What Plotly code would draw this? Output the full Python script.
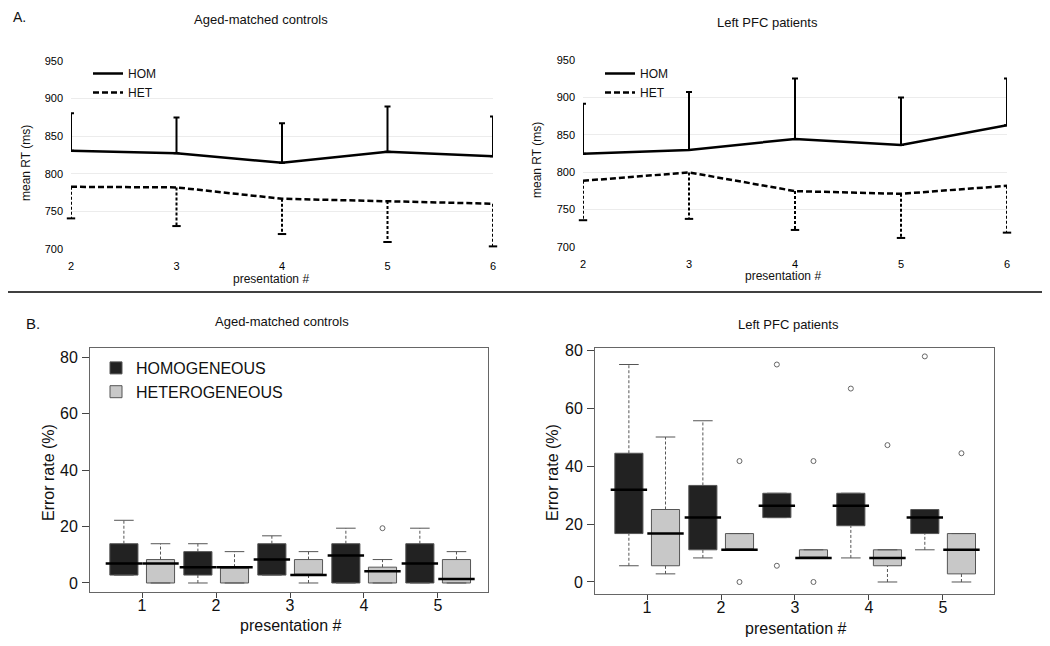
import plotly.graph_objects as go

# ---------------- data ----------------
pres_top = [2, 3, 4, 5, 6]
# Aged-matched controls (top)
ctrl_hom_mean = [830.5, 827.4, 814.6, 829.2, 823.5]
ctrl_hom_err = [50.0, 47.4, 52.7, 60.2, 52.6]
ctrl_het_mean = [782.7, 781.9, 766.8, 763.7, 760.2]
ctrl_het_err = [42.0, 51.4, 46.9, 54.4, 56.7]
# Left PFC patients (top)
pfc_hom_mean = [824.8, 829.7, 844.5, 836.4, 862.8]
pfc_hom_err = [66.6, 77.4, 80.9, 63.5, 62.6]
pfc_het_mean = [788.5, 799.7, 774.7, 771.1, 781.8]
pfc_het_err = [52.7, 62.1, 51.9, 59.0, 62.6]

pres_bot = [1, 2, 3, 4, 5]
# Aged-matched controls error rates (box stats)
c_hom_lo = [2.8, 0.0, 2.8, 0.0, 0.0]
c_hom_q1 = [2.8, 2.8, 2.8, 0.0, 0.0]
c_hom_med = [6.9, 5.6, 8.3, 9.7, 6.9]
c_hom_q3 = [13.9, 11.1, 13.9, 13.9, 13.9]
c_hom_hi = [22.2, 13.9, 16.7, 19.4, 19.4]
c_het_lo = [0.0, 0.0, 0.0, 0.0, 0.0]
c_het_q1 = [0.0, 0.0, 2.8, 0.0, 0.0]
c_het_med = [6.9, 5.6, 2.8, 4.2, 1.4]
c_het_q3 = [8.3, 5.6, 8.3, 5.6, 8.3]
c_het_hi = [13.9, 11.1, 11.1, 8.3, 11.1]
c_hom_out_x, c_hom_out_y = [], []
c_het_out_x, c_het_out_y = [4], [19.4]
# Left PFC patients error rates (box stats)
p_hom_lo = [5.6, 8.3, 22.2, 8.3, 11.1]
p_hom_q1 = [16.7, 11.1, 22.2, 19.4, 16.7]
p_hom_med = [31.8, 22.2, 26.3, 26.3, 22.2]
p_hom_q3 = [44.4, 33.3, 30.6, 30.6, 25.0]
p_hom_hi = [75.0, 55.6, 30.6, 30.6, 25.0]
p_het_lo = [2.8, 11.1, 8.3, 0.0, 0.0]
p_het_q1 = [5.6, 11.1, 8.3, 5.6, 2.8]
p_het_med = [16.7, 11.1, 8.3, 8.3, 11.1]
p_het_q3 = [25.0, 16.7, 11.1, 11.1, 16.7]
p_het_hi = [50.0, 16.7, 11.1, 11.1, 16.7]
p_hom_out_x, p_hom_out_y = [3, 3, 4, 5], [75.0, 5.6, 66.7, 77.8]
p_het_out_x, p_het_out_y = [2, 2, 3, 3, 4, 5], [41.7, 0.0, 41.7, 0.0, 47.2, 44.4]

# ---------------- style ----------------
W, H = 1050, 646
PAGE_OFF = 8  # default page margin around the figure
FONT = "Liberation Sans, Arial, sans-serif"
DARK, LIGHT, EDGE = "#222222", "#c8c8c8", "#555555"
OFF_HOM, OFF_HET, BOXW = -0.245, 0.25, 0.38


def px(x):
    return (x - PAGE_OFF) / W


def py(y):
    return 1 - (y - PAGE_OFF) / H


fig = go.Figure()


def top_panel(hom_m, hom_e, het_m, het_e, xa, ya, leg):
    fig.add_trace(go.Scatter(
        x=pres_top, y=hom_m, mode="lines", name="HOM", legend=leg,
        line=dict(color="black", width=2.5), cliponaxis=False,
        error_y=dict(type="data", symmetric=False, array=hom_e,
                     arrayminus=[0] * len(hom_e), color="black",
                     thickness=2, width=3),
        xaxis=xa, yaxis=ya, hoverinfo="skip"))
    fig.add_trace(go.Scatter(
        x=pres_top, y=het_m, mode="lines", name="HET", legend=leg,
        line=dict(color="black", width=2.5, dash="6px,3px"), cliponaxis=False,
        xaxis=xa, yaxis=ya, hoverinfo="skip"))
    ex, ey = [], []
    for xv, m, e in zip(pres_top, het_m, het_e):
        ex += [xv, xv, None]
        ey += [m, m - e, None]
    fig.add_trace(go.Scatter(
        x=ex, y=ey, mode="lines", showlegend=False, cliponaxis=False,
        line=dict(color="black", width=2, dash="3px,2px"),
        xaxis=xa, yaxis=ya, hoverinfo="skip"))
    fig.add_trace(go.Scatter(
        x=pres_top, y=[m - e for m, e in zip(het_m, het_e)], mode="markers",
        showlegend=False, cliponaxis=False,
        marker=dict(symbol="line-ew-open", size=6, color="black",
                    line=dict(color="black", width=2)),
        xaxis=xa, yaxis=ya, hoverinfo="skip"))


top_panel(ctrl_hom_mean, ctrl_hom_err, ctrl_het_mean, ctrl_het_err, "x", "y", "legend")
top_panel(pfc_hom_mean, pfc_hom_err, pfc_het_mean, pfc_het_err, "x2", "y2", "legend2")


def box_set(lo, q1, med, q3, hi, ox, oy, off, color, name, xa, ya, show):
    xs = [p + off for p in pres_bot]
    # dashed whiskers (R style)
    wx, wy = [], []
    for xv, a, b, c, d in zip(xs, lo, q1, q3, hi):
        wx += [xv, xv, None, xv, xv, None]
        wy += [a, b, None, c, d, None]
    fig.add_trace(go.Scatter(
        x=wx, y=wy, mode="lines", showlegend=False,
        line=dict(color=EDGE, width=1, dash="3px,2px"),
        xaxis=xa, yaxis=ya, hoverinfo="skip"))
    # whisker staples
    fig.add_trace(go.Scatter(
        x=xs + xs, y=lo + hi, mode="markers", showlegend=False,
        marker=dict(symbol="line-ew-open", size=14, color=EDGE,
                    line=dict(color=EDGE, width=1)),
        xaxis=xa, yaxis=ya, hoverinfo="skip"))
    fig.add_trace(go.Box(
        x=xs, q1=q1, median=med, q3=q3, lowerfence=q1, upperfence=q3,
        width=BOXW, whiskerwidth=0, fillcolor=color, name=name,
        line=dict(color=EDGE, width=1), boxpoints=False,
        showlegend=show, legend="legend3", xaxis=xa, yaxis=ya,
        hoverinfo="skip"))
    fig.add_trace(go.Scatter(
        x=xs, y=med, mode="markers", showlegend=False,
        marker=dict(symbol="line-ew-open", size=26, color="black",
                    line=dict(color="black", width=2.5)),
        xaxis=xa, yaxis=ya, hoverinfo="skip"))
    if ox:
        fig.add_trace(go.Scatter(
            x=[p + off for p in ox], y=oy, mode="markers", showlegend=False,
            marker=dict(symbol="circle-open", size=5, color="#666666",
                        line=dict(color="#666666", width=1)),
            xaxis=xa, yaxis=ya, hoverinfo="skip"))


box_set(c_hom_lo, c_hom_q1, c_hom_med, c_hom_q3, c_hom_hi, c_hom_out_x, c_hom_out_y,
        OFF_HOM, DARK, "HOMOGENEOUS", "x3", "y3", True)
box_set(c_het_lo, c_het_q1, c_het_med, c_het_q3, c_het_hi, c_het_out_x, c_het_out_y,
        OFF_HET, LIGHT, "HETEROGENEOUS", "x3", "y3", True)
box_set(p_hom_lo, p_hom_q1, p_hom_med, p_hom_q3, p_hom_hi, p_hom_out_x, p_hom_out_y,
        OFF_HOM, DARK, "HOMOGENEOUS", "x4", "y4", False)
box_set(p_het_lo, p_het_q1, p_het_med, p_het_q3, p_het_hi, p_het_out_x, p_het_out_y,
        OFF_HET, LIGHT, "HETEROGENEOUS", "x4", "y4", False)

# ---------------- axes ----------------
top_x = dict(range=[2, 6], tickvals=pres_top, showgrid=False, zeroline=False,
             showline=False, ticks="", ticklabelstandoff=9,
             tickfont=dict(family=FONT, size=11, color="#000"))
top_y = dict(range=[700, 950], dtick=50, showgrid=True, gridcolor="#ececec",
             gridwidth=1, zeroline=False, showline=False, ticks="",
             ticklabelstandoff=7, tickfont=dict(family=FONT, size=11, color="#000"))
bot_x = dict(tickvals=pres_bot, showgrid=False, zeroline=False, showline=True,
             linecolor="#666", linewidth=1, mirror=True, ticks="outside",
             ticklen=5, tickcolor="#444", ticklabelstandoff=-6,
             tickfont=dict(family=FONT, size=16, color="#111"))
bot_y = dict(tickvals=[0, 20, 40, 60, 80], showgrid=False, zeroline=False,
             showline=True, linecolor="#666", linewidth=1, mirror=True,
             ticks="outside", ticklen=7, tickcolor="#444", ticklabelstandoff=1,
             tickfont=dict(family=FONT, size=16, color="#111"))

fig.update_layout(
    width=W, height=H, margin=dict(l=0, r=0, t=0, b=0, autoexpand=False),
    paper_bgcolor="white", plot_bgcolor="white", boxmode="overlay",
    font=dict(family=FONT, color="#111"),
    xaxis=dict(domain=[px(71), px(493)], anchor="y", **top_x),
    yaxis=dict(domain=[py(249), py(61)], anchor="x", **top_y),
    xaxis2=dict(domain=[px(583), px(1007)], anchor="y2", **top_x),
    yaxis2=dict(domain=[py(247), py(60)], anchor="x2", **top_y),
    xaxis3=dict(domain=[px(90), px(488)], anchor="y3", range=[0.297, 5.676], **bot_x),
    yaxis3=dict(domain=[py(592), py(348)], anchor="x3", range=[-3.19, 83.2], **bot_y),
    xaxis4=dict(domain=[px(595), px(994)], anchor="y4", range=[0.297, 5.69], **bot_x),
    yaxis4=dict(domain=[py(594), py(348)], anchor="x4", range=[-4.14, 80.69], **bot_y),
    legend=dict(x=px(88), y=py(59), xanchor="left", yanchor="top",
                bgcolor="rgba(0,0,0,0)", font=dict(family=FONT, size=12),
                tracegroupgap=0),
    legend2=dict(x=px(600), y=py(59), xanchor="left", yanchor="top",
                 bgcolor="rgba(0,0,0,0)", font=dict(family=FONT, size=12),
                 tracegroupgap=0),
    legend3=dict(x=px(96), y=py(351), xanchor="left", yanchor="top",
                 bgcolor="rgba(0,0,0,0)", font=dict(family=FONT, size=16),
                 tracegroupgap=0),
    showlegend=True,
)


def ann(text, x, y, size, angle=0, xanchor="center"):
    fig.add_annotation(text=text, x=px(x), y=py(y), xref="paper", yref="paper",
                       showarrow=False, xanchor=xanchor, yanchor="middle",
                       textangle=angle, font=dict(family=FONT, size=size, color="#111"))


ann("A.", 11, 17, 14, xanchor="left")
ann("B.", 24, 323, 15, xanchor="left")
ann("Aged-matched controls", 261, 20, 13)
ann("Left PFC patients", 767, 22, 13)
ann("presentation #", 271, 279, 12)
ann("presentation #", 783, 276, 12)
ann("mean RT (ms)", 26, 163, 12, angle=-90)
ann("mean RT (ms)", 537, 160, 12, angle=-90)
ann("Aged-matched controls", 282, 321, 13)
ann("Left PFC patients", 788, 324, 13)
ann("presentation #", 291, 625, 16)
ann("presentation #", 796, 628, 16)
ann("Error rate (%)", 48, 473, 16, angle=-90)
ann("Error rate (%)", 552, 473, 16, angle=-90)

fig.add_shape(type="line", xref="paper", yref="paper", x0=px(0), x1=px(1050),
              y0=py(292), y1=py(292), line=dict(color="black", width=1.5))

fig.write_html("out.html")
